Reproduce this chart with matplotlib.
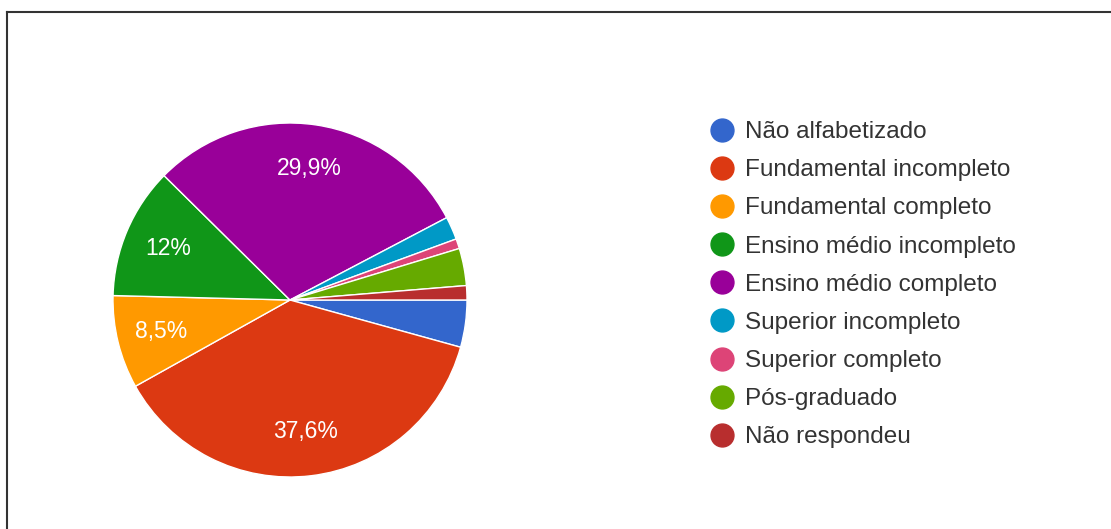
import matplotlib.pyplot as plt
from matplotlib.lines import Line2D

plt.rcParams['font.family'] = ['Liberation Sans', 'DejaVu Sans']

# Education level answers (percent of respondents)
categories = ['Não alfabetizado', 'Fundamental incompleto', 'Fundamental completo',
              'Ensino médio incompleto', 'Ensino médio completo', 'Superior incompleto',
              'Superior completo', 'Pós-graduado', 'Não respondeu']
values = [4.3, 37.6, 8.5, 12.0, 29.9, 2.1, 0.9, 3.4, 1.3]
colors = ['#3366CC', '#DC3912', '#FF9900', '#109618', '#990099',
          '#0099C6', '#DD4477', '#66AA00', '#B82E2E']


def pct_label(p):
    # only the big slices get a label, decimal comma
    if p < 5:
        return ''
    s = f'{p:.1f}'.rstrip('0').rstrip('.')
    return s.replace('.', ',') + '%'


fig = plt.figure(figsize=(11.11, 5.29), dpi=100)

# pie centered at (290, 300) px, radius 177 px
ax = fig.add_axes([113 / 1111, (529 - 477) / 529, 354 / 1111, 354 / 529])
wedges, texts, autotexts = ax.pie(
    values, colors=colors, startangle=0, counterclock=False,
    autopct=pct_label, pctdistance=0.75,
    wedgeprops=dict(edgecolor='white', linewidth=1),
    textprops=dict(color='white', fontsize=16.5))
ax.set_xlim(-1, 1)
ax.set_ylim(-1, 1)
ax.set_aspect('auto')

handles = [Line2D([], [], linestyle='none', marker='o', markersize=16.5,
                  markerfacecolor=c, markeredgecolor=c) for c in colors]
fig.legend(handles, categories, loc='upper left',
           bbox_to_anchor=(710 / 1111, 1 - 121 / 529), frameon=False,
           fontsize=17.5, labelcolor='#333333', handlelength=1.0,
           handletextpad=0.42, labelspacing=0.665, borderpad=0, borderaxespad=0)

# thin dark frame along the top and left edges
fig.add_artist(Line2D([7 / 1111, 7 / 1111], [0, 1 - 12 / 529], color='#333333', lw=1.5))
fig.add_artist(Line2D([7 / 1111, 1], [1 - 12 / 529, 1 - 12 / 529], color='#333333', lw=1.5))

fig.savefig('out.png', dpi=100, facecolor='white')
